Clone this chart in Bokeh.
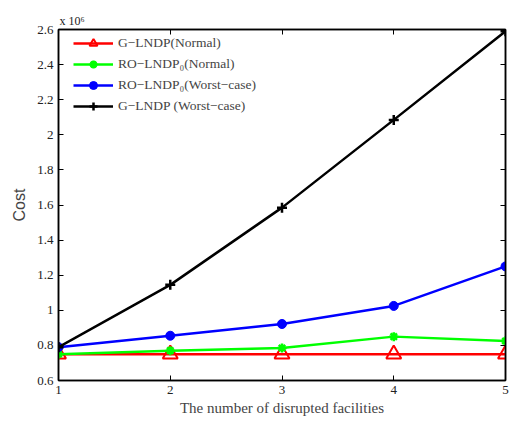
from bokeh.plotting import figure
from bokeh.models import Range1d, LinearAxis, FixedTicker, CustomJSTickFormatter, Legend
from bokeh.embed import file_html
from bokeh.resources import INLINE

# Data (cost in units of 1e6)
facilities = [1, 2, 3, 4, 5]
g_lndp_normal = [0.75, 0.75, 0.75, 0.75, 0.75]
ro_lndp0_normal = [0.75, 0.77, 0.785, 0.85, 0.825]
ro_lndp0_worst = [0.79, 0.855, 0.922, 1.025, 1.25]
g_lndp_worst = [0.79, 1.145, 1.585, 2.085, 2.59]

x_ticks = [1, 2, 3, 4, 5]
y_ticks = [0.6, 0.8, 1.0, 1.2, 1.4, 1.6, 1.8, 2.0, 2.2, 2.4, 2.6]

SERIF = "Liberation Serif"
SANS = "Liberation Sans"

p = figure(width=510, height=421, output_backend="svg", toolbar_location=None,
           x_range=Range1d(1, 5), y_range=Range1d(0.6, 2.6),
           min_border_left=58, min_border_right=5, min_border_top=29, min_border_bottom=41,
           title="x 10\u2076")
p.title.align = "left"
p.title.text_font = SERIF
p.title.text_font_size = "12px"
p.title.text_font_style = "normal"
p.title.text_color = "#222222"
p.title.offset = 1
p.title.standoff = 3
p.background_fill_color = "white"
p.border_fill_color = "white"
p.grid.visible = False
p.outline_line_color = "black"
p.outline_line_width = 1.5

fmt = CustomJSTickFormatter(code="return tick.toFixed(1).replace(/\\.0$/, '');")
blank = CustomJSTickFormatter(code="return '';")

for ax in p.xaxis:
    ax.ticker = FixedTicker(ticks=x_ticks)
    ax.formatter = fmt
    ax.axis_label = "The number of disrupted facilities"
    ax.axis_label_text_font = SERIF
    ax.axis_label_text_font_size = "15px"
    ax.axis_label_text_font_style = "normal"
    ax.axis_label_standoff = 3
for ax in p.yaxis:
    ax.ticker = FixedTicker(ticks=y_ticks)
    ax.formatter = fmt
    ax.axis_label = "Cost"
    ax.axis_label_text_font = SANS
    ax.axis_label_text_font_size = "16px"
    ax.axis_label_text_font_style = "normal"
    ax.axis_label_standoff = 6

for ax in list(p.xaxis) + list(p.yaxis):
    ax.major_label_text_font = SERIF
    ax.major_label_text_font_size = "13px"
    ax.major_label_text_color = "#222222"
    ax.major_tick_in = 5
    ax.major_tick_out = 0
    ax.minor_tick_in = 0
    ax.minor_tick_out = 0
    ax.axis_line_width = 1.5
    ax.major_tick_line_width = 1
    ax.major_label_standoff = 5

top = LinearAxis(ticker=FixedTicker(ticks=x_ticks), formatter=blank,
                 major_label_text_font_size="1px",
                 major_tick_in=5, major_tick_out=0, minor_tick_in=0, minor_tick_out=0,
                 axis_line_width=1.5, major_label_standoff=0)
right = LinearAxis(ticker=FixedTicker(ticks=y_ticks), formatter=blank,
                   major_label_text_font_size="1px",
                   major_tick_in=5, major_tick_out=0, minor_tick_in=0, minor_tick_out=0,
                   axis_line_width=1.5, major_label_standoff=0)
p.add_layout(top, "above")
p.add_layout(right, "right")

r1 = p.line(facilities, g_lndp_normal, color="#ff0000", line_width=2.5)
m1 = p.scatter(facilities, g_lndp_normal, marker="triangle", size=15, line_color="#ff0000",
               fill_color=None, line_width=2)
r2 = p.line(facilities, ro_lndp0_normal, color="#00ff00", line_width=2.5)
m2 = p.scatter(facilities, ro_lndp0_normal, marker="asterisk", size=9, line_color="#00ff00",
               line_width=2.5)
r3 = p.line(facilities, ro_lndp0_worst, color="#0000ff", line_width=2.5)
m3 = p.scatter(facilities, ro_lndp0_worst, marker="circle", size=9, line_color="#0000ff",
               fill_color="#0000ff")
r4 = p.line(facilities, g_lndp_worst, color="black", line_width=2.5)
m4 = p.scatter(facilities, g_lndp_worst, marker="cross", size=10, line_color="black",
               line_width=2.5)

legend = Legend(items=[
    ("G\u2212LNDP(Normal)", [r1, m1]),
    ("RO\u2212LNDP\u2080(Normal)", [r2, m2]),
    ("RO\u2212LNDP\u2080(Worst\u2212case)", [r3, m3]),
    ("G\u2212LNDP (Worst\u2212case)", [r4, m4]),
], location=(15, 264), padding=0, spacing=1, margin=0,
   glyph_width=40, glyph_height=20, label_height=20, label_standoff=5,
   label_text_font=SERIF, label_text_font_size="13.5px",
   border_line_alpha=0, background_fill_alpha=0)
p.add_layout(legend, "center")

open("out.html", "w").write(file_html(p, INLINE))
